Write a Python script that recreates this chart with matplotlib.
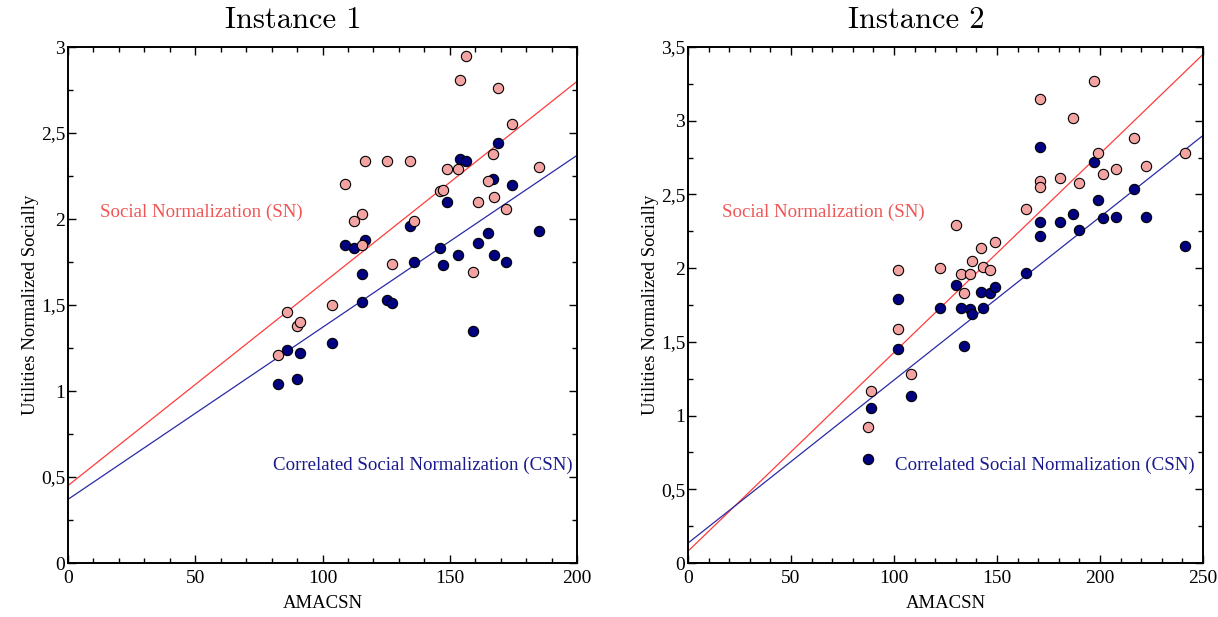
import matplotlib
matplotlib.use("Agg")
import matplotlib.pyplot as plt
from matplotlib.ticker import MultipleLocator, FuncFormatter
import numpy as np

# ---------------- data ----------------
titles = ["Instance 1", "Instance 2"]
x_label = "AMACSN"
y_label = "Utilities Normalized Socially"
sn_label = "Social Normalization (SN)"
csn_label = "Correlated Social Normalization (CSN)"

x_inst1 = [82.5, 86.2, 90.1, 91.2, 103.9, 108.8, 112.3, 115.5, 115.5, 116.8,
           125.5, 127.3, 134.5, 136.1, 146.2, 147.5, 149.0, 153.1, 154.0, 156.2,
           159.3, 161.0, 165.2, 166.9, 167.5, 169.1, 172.1, 174.6, 185.2]
sn_inst1 = [1.21, 1.46, 1.38, 1.40, 1.50, 2.205, 1.99, 2.03, 1.85, 2.34,
            2.34, 1.74, 2.34, 1.99, 2.16, 2.17, 2.29, 2.29, 2.81, 2.95,
            1.69, 2.10, 2.22, 2.38, 2.13, 2.76, 2.06, 2.55, 2.30]
csn_inst1 = [1.04, 1.24, 1.07, 1.22, 1.28, 1.85, 1.83, 1.68, 1.52, 1.88,
             1.53, 1.51, 1.96, 1.75, 1.83, 1.73, 2.10, 1.79, 2.35, 2.34,
             1.35, 1.86, 1.92, 2.23, 1.79, 2.44, 1.75, 2.20, 1.93]

x_inst2 = [87.5, 88.8, 101.9, 101.9, 108.4, 122.5, 130.2, 132.4, 134.1, 137.1,
           138.0, 142.2, 143.0, 146.7, 149.2, 163.9, 171.0, 171.0, 171.0, 180.4,
           187.0, 189.6, 196.9, 199.2, 201.5, 207.8, 216.5, 222.3, 241.1]
sn_inst2 = [0.92, 1.17, 1.99, 1.59, 1.28, 2.00, 2.29, 1.96, 1.83, 1.96,
            2.05, 2.14, 2.01, 1.99, 2.18, 2.40, 3.15, 2.59, 2.55, 2.61,
            3.02, 2.58, 3.27, 2.78, 2.64, 2.67, 2.88, 2.69, 2.78]
csn_inst2 = [0.705, 1.05, 1.79, 1.45, 1.13, 1.73, 1.886, 1.73, 1.47, 1.72,
             1.69, 1.84, 1.73, 1.83, 1.87, 1.97, 2.82, 2.315, 2.22, 2.31,
             2.37, 2.26, 2.72, 2.46, 2.34, 2.345, 2.54, 2.35, 2.15]

# fitted lines: (intercept, slope)
sn_fit = [(0.45, 0.01175), (0.08, 0.01348)]
csn_fit = [(0.37, 0.0100), (0.135, 0.01106)]

x_max = [200, 250]
y_max = [3.0, 3.5]

# ---------------- style ----------------
serif = ["Liberation Serif", "DejaVu Serif"]
plt.rcParams["font.family"] = serif
plt.rcParams["mathtext.fontset"] = "cm"

pink_fill = "#f4a3a3"
navy_fill = "#000080"
red_line = "#ff3c3c"
blue_line = "#2a2aa6"
sn_text = "#f05555"
csn_text = "#1a1a8c"

fig = plt.figure(figsize=(12.18, 6.17), dpi=100)
axes = [fig.add_axes([68 / 1218, 54 / 617, 509 / 1218, 516 / 617]),
        fig.add_axes([688 / 1218, 54 / 617, 515 / 1218, 516 / 617])]

xs = [x_inst1, x_inst2]
sns_ = [sn_inst1, sn_inst2]
csns = [csn_inst1, csn_inst2]
sn_text_pos = [(12.6, 2.04), (16.5, 2.38)]
csn_text_pos = [(80.5, 0.565), (100.5, 0.66)]


def comma_fmt(v, pos):
    s = ("%g" % round(v, 3)).replace(".", ",")
    return s


for i, ax in enumerate(axes):
    xx = np.linspace(0, x_max[i], 200)
    a, b = sn_fit[i]
    ax.plot(xx, a + b * xx, color=red_line, lw=0.9, zorder=2)
    a, b = csn_fit[i]
    ax.plot(xx, a + b * xx, color=blue_line, lw=0.9, zorder=2)

    ax.scatter(xs[i], csns[i], s=55, facecolor=navy_fill, edgecolor="black",
               linewidths=0.8, zorder=3)
    ax.scatter(xs[i], sns_[i], s=55, facecolor=pink_fill, edgecolor="black",
               linewidths=0.8, zorder=4)

    ax.set_xlim(0, x_max[i])
    ax.set_ylim(0, y_max[i])
    ax.xaxis.set_major_locator(MultipleLocator(50))
    ax.xaxis.set_minor_locator(MultipleLocator(10))
    ax.yaxis.set_major_locator(MultipleLocator(0.5))
    ax.yaxis.set_minor_locator(MultipleLocator(0.25))
    ax.yaxis.set_major_formatter(FuncFormatter(comma_fmt))
    ax.xaxis.set_major_formatter(FuncFormatter(comma_fmt))
    ax.tick_params(which="both", direction="in", top=True, right=True,
                   width=1.0, labelsize=14)
    ax.tick_params(axis="x", which="major", pad=5)
    ax.tick_params(axis="y", which="major", pad=2)
    ax.tick_params(which="major", length=6)
    ax.tick_params(which="minor", length=3.5)
    for sp in ax.spines.values():
        sp.set_linewidth(1.4)

    ax.set_xlabel(x_label, fontsize=13.5, labelpad=6)
    ax.set_ylabel(y_label, fontsize=13.5, labelpad=1)
    ax.set_title(titles[i], fontsize=22, family="cmr10", x=0.443, y=1.0,
                 pad=14)

    ax.text(*sn_text_pos[i], sn_label, color=sn_text, fontsize=13.6,
            va="center", ha="left")
    ax.text(*csn_text_pos[i], csn_label, color=csn_text, fontsize=13.6,
            va="center", ha="left")

fig.savefig("out.png", dpi=100)
